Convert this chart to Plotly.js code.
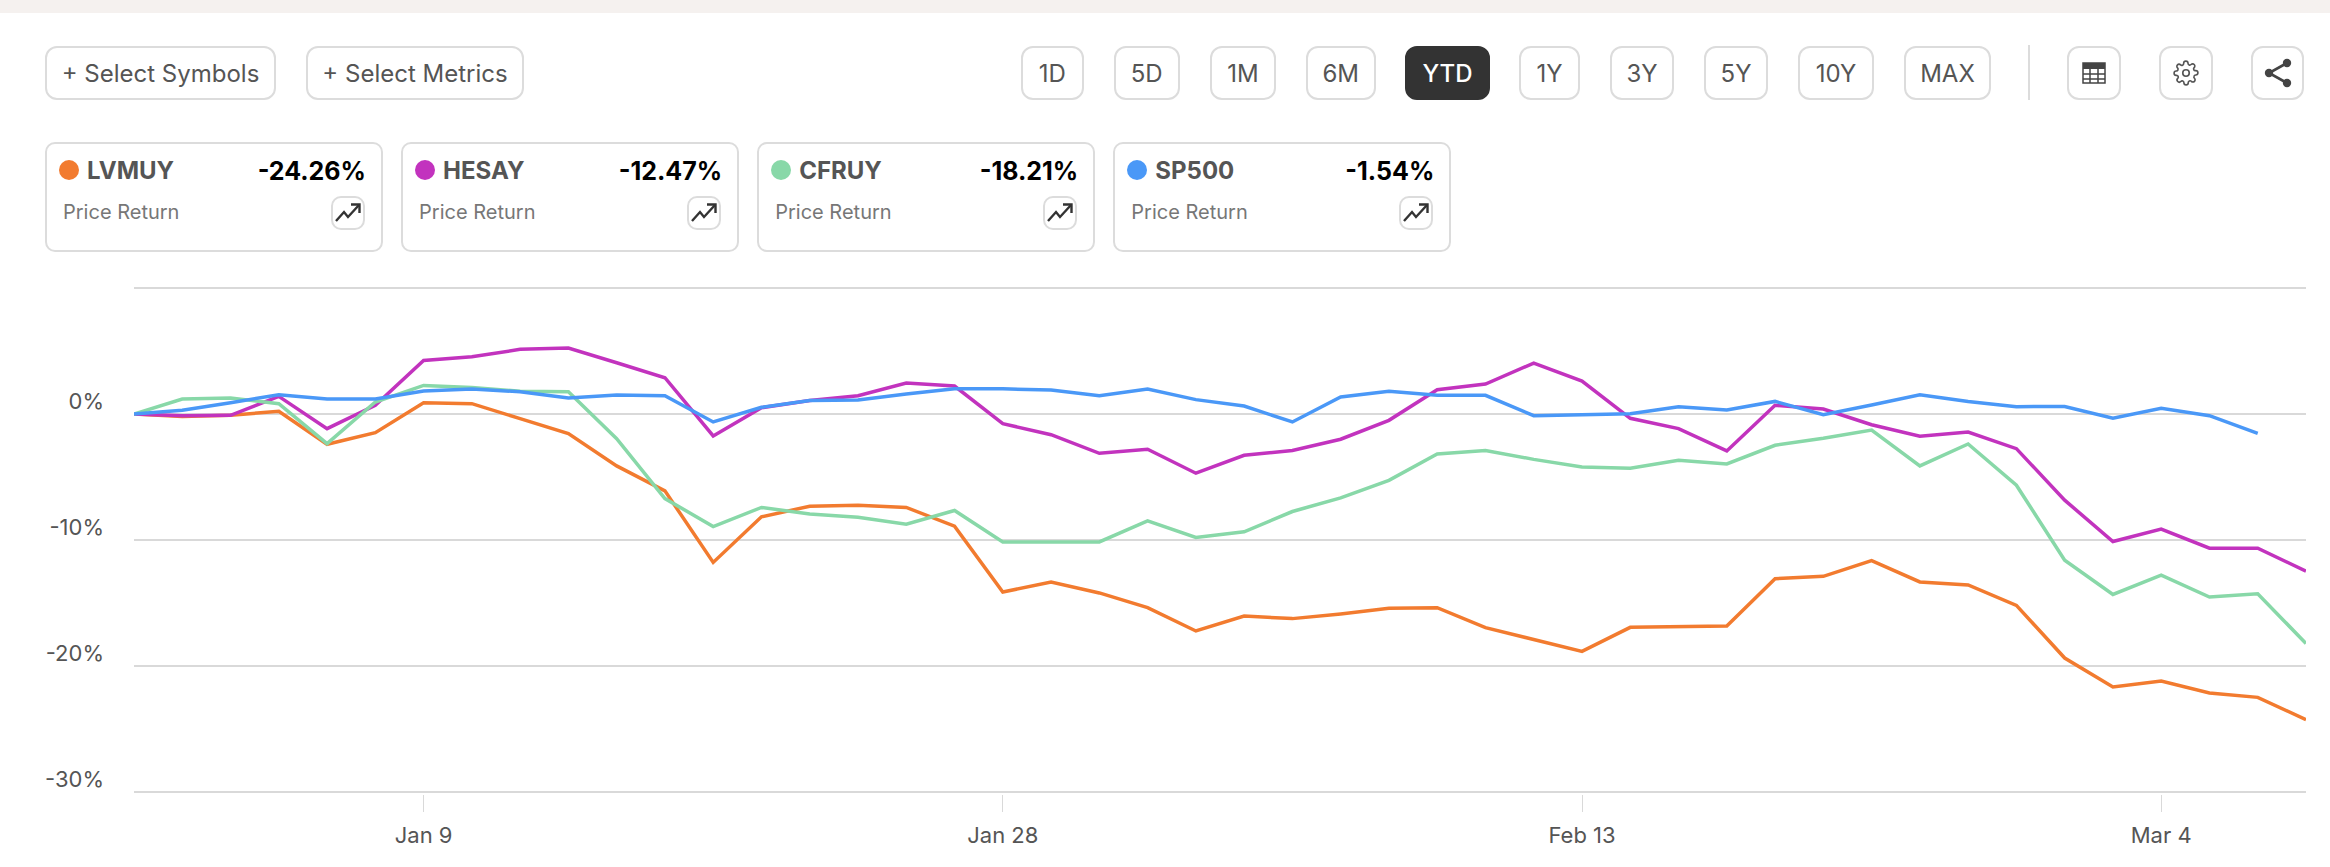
<!DOCTYPE html>
<html>
<head>
<meta charset="utf-8">
<script src="https://cdn.plot.ly/plotly-3.0.1.min.js"></script>
<style>
html,body{margin:0;padding:0;background:#fff;width:2330px;height:867px;overflow:hidden;font-family:Inter,"Noto Sans",sans-serif}
#strip{position:absolute;left:0;top:0;width:2330px;height:13px;background:#f5f1ef}
#chart{position:absolute;left:0;top:0;width:2330px;height:867px}
.btn{position:absolute;top:46px;height:54px;box-sizing:border-box;border:2px solid #dcdcdc;border-radius:12px;background:#fff;color:#555;font-size:24px;display:flex;align-items:center;justify-content:center;white-space:nowrap}
.btn.on{background:#333;border-color:#333;color:#fff;font-weight:500}
.card{position:absolute;top:142px;width:338px;height:110px;box-sizing:border-box;border:2px solid #dcdcdc;border-radius:10px;background:#fff}
.dot{position:absolute;left:12px;top:16px;width:20px;height:20px;border-radius:50%}
.sym{position:absolute;left:40px;top:12px;font-size:24px;line-height:30px;font-weight:700;color:#555}
.val{position:absolute;right:15px;top:12px;font-size:25px;line-height:30px;font-weight:700;color:#000}
.lab{position:absolute;left:16px;top:54px;font-size:20px;line-height:28px;color:#777}
.ico{position:absolute;right:16px;top:52px;width:34px;height:34px;box-sizing:border-box;border:2px solid #dcdcdc;border-radius:10px;display:flex;align-items:center;justify-content:center}
#div{position:absolute;left:2028px;top:45px;width:2px;height:55px;background:#dcdcdc}
</style>
</head>
<body>
<div id="chart"></div>
<div id="strip"></div>
<div id="ui"></div>
<script>
// ---- data -------------------------------------------------------------
const dates = ["Dec 31","Jan 2","Jan 3","Jan 6","Jan 7","Jan 8","Jan 9","Jan 10","Jan 13","Jan 14","Jan 15","Jan 16","Jan 17","Jan 21","Jan 22","Jan 23","Jan 24","Jan 27","Jan 28","Jan 29","Jan 30","Jan 31","Feb 3","Feb 4","Feb 5","Feb 6","Feb 7","Feb 10","Feb 11","Feb 12","Feb 13","Feb 14","Feb 18","Feb 19","Feb 20","Feb 21","Feb 24","Feb 25","Feb 26","Feb 27","Feb 28","Mar 3","Mar 4","Mar 5","Mar 6","Mar 7"];
const LVMUY = [0,-0.2,-0.1,0.21,-2.4,-1.48,0.9,0.82,-0.37,-1.56,-4.12,-6.1,-11.78,-8.16,-7.32,-7.24,-7.42,-8.9,-14.13,-13.33,-14.2,-15.37,-17.22,-16.03,-16.24,-15.87,-15.42,-15.37,-16.96,-17.9,-18.84,-16.93,-16.85,-16.83,-13.07,-12.88,-11.64,-13.33,-13.57,-15.19,-19.37,-21.67,-21.19,-22.14,-22.49,-24.26];
const HESAY = [0,-0.13,-0.1,1.4,-1.16,0.69,4.25,4.54,5.13,5.23,4.07,2.88,-1.74,0.5,1.08,1.45,2.46,2.22,-0.77,-1.64,-3.12,-2.8,-4.7,-3.28,-2.9,-2.0,-0.5,1.93,2.38,4.04,2.62,-0.34,-1.16,-2.93,0.69,0.4,-0.85,-1.77,-1.43,-2.75,-6.84,-10.12,-9.14,-10.65,-10.65,-12.47];
const CFRUY = [0,1.19,1.27,0.82,-2.35,0.95,2.27,2.11,1.8,1.77,-1.96,-6.71,-8.93,-7.42,-7.93,-8.19,-8.75,-7.66,-10.15,-10.15,-10.15,-8.48,-9.8,-9.35,-7.74,-6.66,-5.26,-3.17,-2.9,-3.6,-4.2,-4.31,-3.67,-3.96,-2.48,-1.93,-1.27,-4.12,-2.38,-5.65,-11.6,-14.32,-12.79,-14.53,-14.27,-18.21];
const SP500 = [0,0.3,0.9,1.53,1.19,1.19,1.82,1.98,1.77,1.27,1.5,1.45,-0.63,0.53,1.08,1.11,1.59,2.0,2.0,1.9,1.45,1.98,1.14,0.63,-0.63,1.35,1.8,1.48,1.48,-0.13,-0.05,0.03,0.58,0.32,1.0,-0.05,0.71,1.53,1.0,0.58,0.6,-0.34,0.45,-0.13,-1.54];
const symbols = ["LVMUY","HESAY","CFRUY","SP500"];
const returns = ["-24.26%","-12.47%","-18.21%","-1.54%"];
const colors = ["#f27b2f","#c233be","#88d8a8","#4a98f7"];
const metricLabel = "Price Return";
const xTicks = ["Jan 9","Jan 28","Feb 13","Mar 4"];
const yTickVals = [10,0,-10,-20,-30];
const yTickText = ["","0%","-10%","-20%","-30%"];
const selectors = ["+ Select Symbols","+ Select Metrics"];
const periods = ["1D","5D","1M","6M","YTD","1Y","3Y","5Y","10Y","MAX"];

// ---- chart ------------------------------------------------------------
const series = [LVMUY,HESAY,CFRUY,SP500];
const traces = series.map((y,i)=>({type:"scatter",mode:"lines",name:symbols[i],x:dates.slice(0,y.length),y:y,
  line:{color:colors[i],width:3.5,shape:"linear"},hoverinfo:"x+y+name"}));
const tickFont = {family:"Inter, sans-serif",size:22,color:"#555"};
Plotly.newPlot("chart",traces,{
  width:2330,height:867,
  margin:{l:133.5,r:24,t:285.6,b:73.4,pad:0},
  paper_bgcolor:"#fff",plot_bgcolor:"#fff",showlegend:false,
  xaxis:{type:"category",categoryorder:"array",categoryarray:dates,range:[0,45],
    tickmode:"array",tickvals:xTicks,ticktext:xTicks,showgrid:false,zeroline:false,showline:false,
    ticks:"outside",ticklen:17,tickwidth:1,tickcolor:"#d9d9d9",tickfont:tickFont,automargin:false,ticklabelstandoff:5},
  yaxis:{range:[-30.16,10.16],tickmode:"array",tickvals:yTickVals,ticktext:yTickText,showgrid:true,gridcolor:"#d9d9d9",gridwidth:1.5,
    zeroline:false,showline:false,ticks:"",tickfont:tickFont,automargin:false,ticklabelstandoff:29,ticklabelshift:-13}
},{displayModeBar:false,responsive:false});

// ---- page furniture ---------------------------------------------------
const ui = document.getElementById("ui");
function add(html){const t=document.createElement("template");t.innerHTML=html.trim();const n=t.content.firstChild;ui.appendChild(n);return n;}
const selBoxes=[[45,276],[306,524]];
selectors.forEach((s,i)=>add(`<div class="btn" style="left:${selBoxes[i][0]}px;width:${selBoxes[i][1]-selBoxes[i][0]}px">${s}</div>`));
const perBoxes=[[1020.5,1084],[1113.5,1180],[1210,1276],[1305.5,1376],[1405,1490],[1519,1580],[1610,1674],[1704,1768],[1798,1874],[1904,1991]];
periods.forEach((p,i)=>add(`<div class="btn${p==="YTD"?" on":""}" style="left:${perBoxes[i][0]}px;width:${perBoxes[i][1]-perBoxes[i][0]}px">${p}</div>`));
add('<div id="div"></div>');
const tableIcon='<svg width="24" height="24" viewBox="0 0 24 24"><rect x="1" y="2" width="22" height="20" fill="none" stroke="#444" stroke-width="1.5"/><rect x="1" y="2" width="22" height="6" fill="#444"/><path d="M1 13H23M1 18H23M8 8V22M16 8V22" stroke="#444" stroke-width="1.5" fill="none"/></svg>';
const gearIcon='<svg width="26" height="26" viewBox="0 0 24 24" fill="none" stroke="#555" stroke-width="1.5" stroke-linejoin="round"><circle cx="12" cy="12" r="3"/><path d="M19.4 15a1.65 1.65 0 0 0 .33 1.82l.06.06a2 2 0 1 1-2.83 2.83l-.06-.06a1.65 1.65 0 0 0-2.82 1.17V21a2 2 0 1 1-4 0v-.09a1.65 1.65 0 0 0-2.82-1.11l-.06.06a2 2 0 1 1-2.83-2.83l.06-.06a1.65 1.65 0 0 0-1.17-2.82H3a2 2 0 1 1 0-4h.09A1.65 1.65 0 0 0 4.2 7.33l-.06-.06a2 2 0 1 1 2.83-2.83l.06.06a1.65 1.65 0 0 0 2.82-1.17V3a2 2 0 1 1 4 0v.09a1.65 1.65 0 0 0 2.82 1.11l.06-.06a2 2 0 1 1 2.83 2.83l-.06.06a1.65 1.65 0 0 0 1.17 2.82H21a2 2 0 1 1 0 4h-.09A1.65 1.65 0 0 0 19.4 15z"/></svg>';
const shareIcon='<svg width="30" height="30" viewBox="0 0 30 30"><path d="M24 5L6 15L24 25" fill="none" stroke="#444" stroke-width="2.6"/><circle cx="24" cy="5" r="4.2" fill="#444"/><circle cx="6" cy="15" r="4.2" fill="#444"/><circle cx="24" cy="25" r="4.2" fill="#444"/></svg>';
const toolBoxes=[[2066.5,2121,tableIcon],[2158.6,2213,gearIcon],[2251,2304,shareIcon]];
toolBoxes.forEach(b=>add(`<div class="btn" style="left:${b[0]}px;width:${b[1]-b[0]}px">${b[2]}</div>`));
const trend='<svg width="26" height="22" viewBox="0 0 26 22" fill="none" stroke="#333" stroke-width="2.4"><path d="M1 19L9 10L13 15L24 3"/><path d="M16 2.5H24.5V11"/></svg>';
symbols.forEach((s,i)=>add(`<div class="card" style="left:${45+356.1*i}px"><div class="dot" style="background:${colors[i]}"></div><div class="sym">${s}</div><div class="val">${returns[i]}</div><div class="lab">${metricLabel}</div><div class="ico">${trend}</div></div>`));
</script>
</body>
</html>
